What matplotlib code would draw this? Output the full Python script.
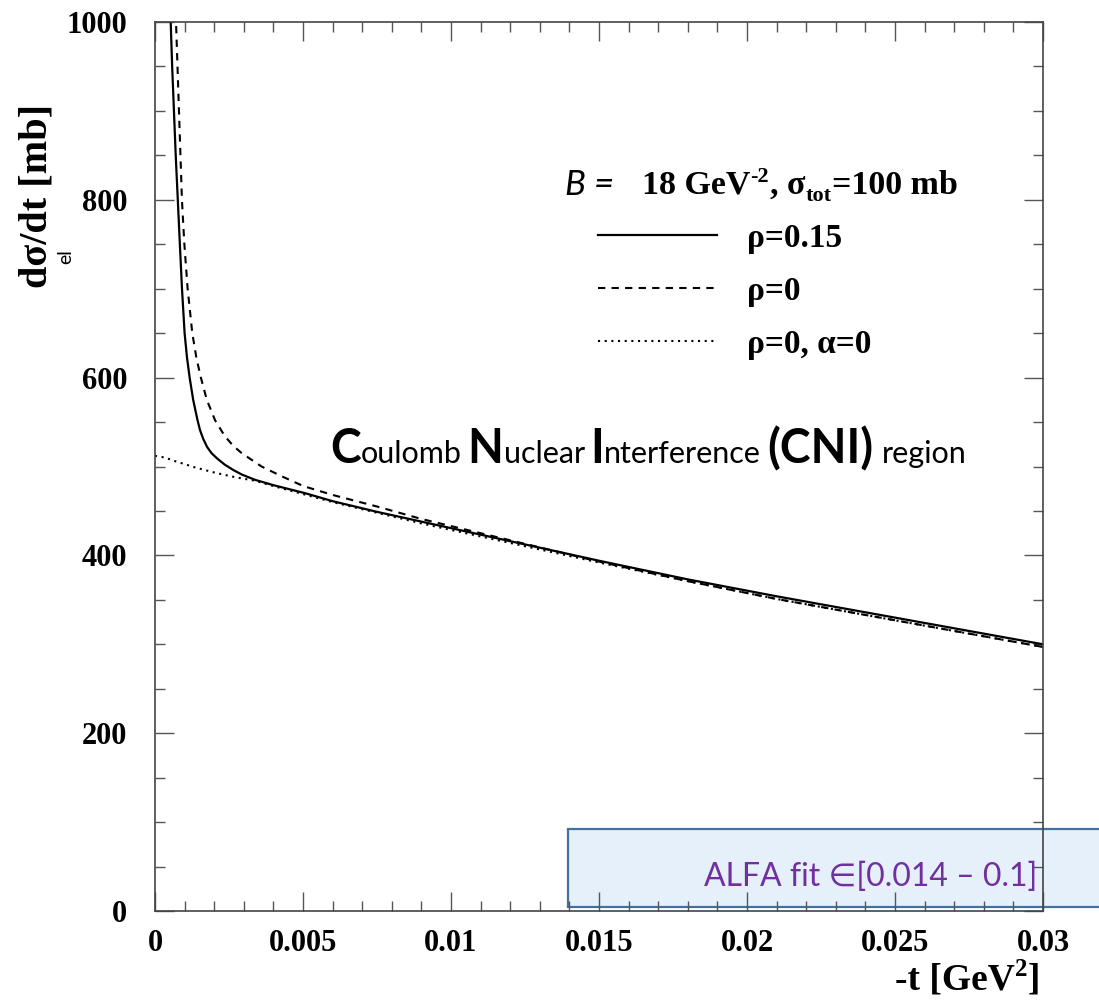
import matplotlib
matplotlib.use("Agg")
import matplotlib.pyplot as plt
from matplotlib.patches import Rectangle
from matplotlib.ticker import MultipleLocator, FuncFormatter

# values: -t [GeV^2] vs dsigma_el/dt [mb]
T_RHO015 = [0.00049, 0.00053, 0.00058, 0.00064, 0.00070, 0.00077, 0.00084,
            0.00091, 0.00100, 0.00108, 0.00117, 0.00129, 0.00143, 0.00152,
            0.00163, 0.00176, 0.00191, 0.0021, 0.00236, 0.00265, 0.00293,
            0.00338, 0.0040, 0.00507, 0.006, 0.0075, 0.009, 0.012, 0.015,
            0.018, 0.021, 0.025, 0.03]
SIG_RHO015 = [1050, 1000, 950, 900, 850, 800, 750,
              701, 650, 623, 600, 575, 553, 541,
              531, 522, 515, 509, 502, 496, 491,
              485, 479, 470, 461, 449, 438, 416, 394,
              373, 354, 330, 300]

T_RHO0 = [0.00067, 0.00071, 0.00076, 0.00081, 0.00086, 0.00091, 0.00099,
          0.00110, 0.00126, 0.00140, 0.00155, 0.00175, 0.00203, 0.00236,
          0.00265, 0.00293, 0.0036, 0.00428, 0.00501, 0.006, 0.0075, 0.009,
          0.012, 0.015, 0.018, 0.021, 0.025, 0.03]
SIG_RHO0 = [1050, 1000, 950, 900, 850, 800, 751,
            701, 650, 622, 600, 575, 552, 534,
            523, 515, 500, 489, 478, 468, 455, 441,
            417, 393, 371, 351, 327, 297]

T_NOCOUL = [0.0, 0.00034, 0.00068, 0.00135, 0.00203, 0.0027, 0.00338, 0.004,
            0.005, 0.006, 0.0075, 0.009, 0.012, 0.015, 0.018, 0.021, 0.025,
            0.03]
SIG_NOCOUL = [512, 510, 506, 499, 493, 488, 484, 478,
              469, 460, 448, 436, 414, 392, 371, 351, 327,
              297]

LABELS = ["ρ=0.15", "ρ=0", "ρ=0, α=0"]
XTICKS = [0, 0.005, 0.01, 0.015, 0.02, 0.025, 0.03]
YTICKS = [0, 200, 400, 600, 800, 1000]

SERIF = "Liberation Serif"
SANS = ["Lato", "DejaVu Sans"]

plt.rcParams["font.family"] = [SERIF, "DejaVu Serif"]
plt.rcParams["font.weight"] = "bold"

W, H = 1099, 1001
fig = plt.figure(figsize=(W / 100, H / 100), dpi=100)
ax = fig.add_axes([155 / W, 1 - 911 / H, (1043 - 155) / W, (911 - 22) / H])
ax.set_facecolor("none")

# blue box behind the axes (runs past the right edge)
fig.add_artist(Rectangle((568 / W, 1 - 907 / H), (1120 - 568) / W, (907 - 829) / H,
                         transform=fig.transFigure, facecolor="#e6f0fa",
                         edgecolor="#41719c", linewidth=1.6, zorder=-1))

l1, = ax.plot(T_RHO015, SIG_RHO015, color="black", lw=1.6, ls="-")
l2, = ax.plot(T_RHO0, SIG_RHO0, color="black", lw=1.5, ls=(0, (3.5, 3)))
l3, = ax.plot(T_NOCOUL, SIG_NOCOUL, color="black", lw=1.5, ls=(0, (1, 2.2)))

ax.set_xlim(0, 0.03)
ax.set_ylim(0, 1000)
ax.set_xticks(XTICKS)
ax.set_yticks(YTICKS)
ax.xaxis.set_minor_locator(MultipleLocator(0.001))
ax.yaxis.set_minor_locator(MultipleLocator(50))
ax.xaxis.set_major_formatter(FuncFormatter(lambda v, p: f"{v:g}"))
ax.yaxis.set_major_formatter(FuncFormatter(lambda v, p: f"{v:g}"))
ax.tick_params(which="both", direction="in", top=True, right=True,
               color="#555555", width=1.0, labelsize=22)
ax.tick_params(which="major", length=14)
ax.tick_params(which="minor", length=7)
ax.tick_params(axis="y", pad=20)
ax.tick_params(axis="x", pad=13)
for sp in ax.spines.values():
    sp.set_color("#444444")
    sp.set_linewidth(1.2)

leg = ax.legend([l1, l2, l3], LABELS, loc="upper left",
                bbox_to_anchor=(598 / W, 1 - 223 / H), bbox_transform=fig.transFigure,
                frameon=False, borderpad=0, borderaxespad=0, handlelength=3.57,
                handletextpad=0.9, labelspacing=0.66,
                prop={"family": SERIF, "weight": "bold", "size": 24})

rend = fig.canvas.get_renderer()


def runs(parts, x0, base):
    # draw text pieces one after another on a common baseline (pixel coords)
    x = x0
    for s, kw in parts:
        kw = dict(kw)
        dy = kw.pop("dy", 0)
        x += kw.pop("gap", 0)
        t = fig.text(x / W, 1 - (base - dy) / H, s, va="baseline", ha="left", **kw)
        x += t.get_window_extent(rend).width
    return x


big = dict(family=SANS, fontsize=33.5, fontweight="bold")
small = dict(family=SANS, fontsize=22, fontweight="normal")
runs([("C", big), ("oulomb", small),
      ("N", dict(big, gap=6)), ("uclear", small),
      ("I", dict(big, gap=6)), ("nterference", small),
      ("(CNI)", dict(big, gap=6)), ("region", dict(small, gap=9))], 330, 463)

# legend header
fig.text(565 / W, 1 - 195 / H, "B =", family=SANS, fontsize=25,
         fontstyle="italic", fontweight="normal", va="baseline")
ser = dict(family=SERIF, fontsize=24.5, fontweight="bold")
sup = dict(family=SERIF, fontsize=16, fontweight="bold", dy=12)
sub = dict(family=SERIF, fontsize=16, fontweight="bold", dy=-7)
runs([("18 GeV", ser), ("-2", sup), (", σ", dict(ser, gap=1)), ("tot", sub),
      ("=100 mb", ser)], 642, 194)

# axis labels
fig.text(37 / W, 1 - 196 / H, "dσ/dt [mb]", rotation=90, ha="center",
         va="center", family=SERIF, fontsize=29, fontweight="bold")
fig.text(66 / W, 1 - 257 / H, "el", rotation=90, ha="center", va="center",
         family=SANS, fontsize=14, fontweight="normal")
xl = dict(family=SERIF, fontsize=27, fontweight="bold")
runs([("-t [GeV", xl), ("2", dict(xl, fontsize=18, dy=14)), ("]", xl)], 895, 990)

fig.text(1037 / W, 1 - 877 / H, "ALFA fit ∈[0.014 – 0.1]", ha="right",
         va="center", family=SANS, fontsize=23, fontweight="normal",
         color="#7030a0")

fig.savefig("out.png", dpi=100)
